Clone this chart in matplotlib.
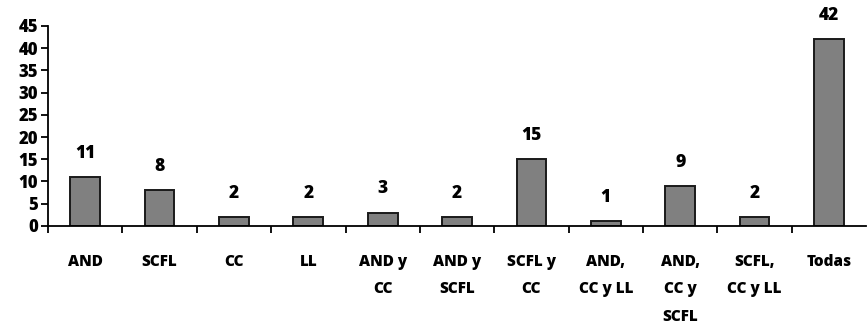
import numpy as np
import matplotlib.pyplot as plt

categorias = ["AND", "SCFL", "CC", "LL", "AND y\nCC", "AND y\nSCFL", "SCFL y\nCC",
              "AND,\nCC y LL", "AND,\nCC y\nSCFL", "SCFL,\nCC y LL", "Todas"]
valores = [11, 8, 2, 2, 3, 2, 15, 1, 9, 2, 42]
yticks = [0, 5, 10, 15, 20, 25, 30, 35, 40, 45]

plt.rcParams['font.family'] = ['Open Sans', 'DejaVu Sans']
plt.rcParams['font.weight'] = 'heavy'

fig = plt.figure(figsize=(8.67, 3.25), dpi=100)
ax = fig.add_axes([48/867, 0.305, 1 - 48/867 - 0.001, 0.615])

x = np.arange(len(valores))
bars = ax.bar(x, valores, width=0.4, color='#808080', edgecolor='#1a1a1a', linewidth=1.4)

for xi, v in zip(x, valores):
    ax.annotate(str(v), (xi, v), xytext=(0, 11), textcoords='offset points',
                ha='center', va='bottom', fontsize=12.5, fontweight='heavy')

ax.set_xlim(-0.5, len(valores) - 0.5)
ax.set_ylim(0, 45)
ax.set_yticks(yticks)
ax.set_yticklabels([str(t) for t in yticks], fontsize=12, fontweight='heavy')

# ticks at category boundaries, labels at centers
ax.set_xticks(np.arange(len(valores)) - 0.5)
ax.set_xticklabels([])
ax.set_xticks(x, categorias, minor=True)
ax.tick_params(axis='x', which='minor', length=0, pad=20, labelsize=11)
ax.tick_params(axis='x', which='major', length=5, width=1.3, direction='out')
ax.tick_params(axis='y', length=5, width=1.3, direction='out', pad=2)
for lbl in ax.get_xticklabels(minor=True):
    lbl.set_fontweight('heavy')
    lbl.set_linespacing(1.98)
    lbl.set_verticalalignment('top')

ax.spines['top'].set_visible(False)
ax.spines['right'].set_visible(False)
ax.spines['left'].set_linewidth(1.3)
ax.spines['bottom'].set_linewidth(1.3)

fig.savefig('out.png', dpi=100)
